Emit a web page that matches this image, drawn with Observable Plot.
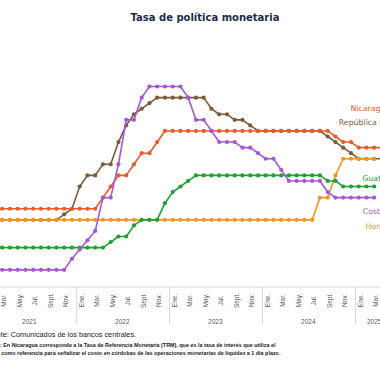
<!DOCTYPE html>
<html><head><meta charset="utf-8">
<script src="https://cdn.jsdelivr.net/npm/d3@7"></script>
<script src="https://cdn.jsdelivr.net/npm/@observablehq/plot@0.6"></script>
<style>
html,body{margin:0;padding:0;background:#fff;overflow:hidden;width:380px;height:380px;}
#wrap{position:relative;width:380px;height:380px;overflow:hidden;}
#title{position:absolute;left:0;top:12px;width:410px;text-align:center;font:bold 10px "DejaVu Sans";color:#1B2B4B;}
#chart{position:absolute;left:0;top:30px;width:380px;height:300px;}
.cap{position:absolute;white-space:nowrap;font-family:"Liberation Sans",Arial,sans-serif;color:#1a1a1a;line-height:1;}
</style></head><body>
<div id="wrap">
<div id="title">Tasa de política monetaria</div>
<div id="chart"></div>
<div class="cap" style="left:-16px;top:331px;font-size:7.3px">Fuente: Comunicados de los bancos centrales.</div>
<div class="cap" style="left:-12px;top:343px;font-size:5.4px;font-weight:bold">Nota: En Nicaragua corresponde a la Tasa de Referencia Monetaria (TRM), que es la tasa de interés que utiliza el</div>
<div class="cap" style="left:-12px;top:350.5px;font-size:5.4px;font-weight:bold">BCN como referencia para señalizar el costo en córdobas de las operaciones monetarias de liquidez a 1 día plazo.</div>
</div>
<script>
// Categories: months Jan 2021 .. May 2025 (axis extent)
const months = [
"2021-01","2021-02","2021-03","2021-04","2021-05","2021-06","2021-07","2021-08","2021-09","2021-10","2021-11","2021-12",
"2022-01","2022-02","2022-03","2022-04","2022-05","2022-06","2022-07","2022-08","2022-09","2022-10","2022-11","2022-12",
"2023-01","2023-02","2023-03","2023-04","2023-05","2023-06","2023-07","2023-08","2023-09","2023-10","2023-11","2023-12",
"2024-01","2024-02","2024-03","2024-04","2024-05","2024-06","2024-07","2024-08","2024-09","2024-10","2024-11","2024-12",
"2025-01","2025-02","2025-03","2025-04","2025-05"];
const monthAbbr = ["Ene.","Feb.","Mar.","Abr.","May.","Jun.","Jul.","Ago.","Sept.","Oct.","Nov.","Dic."];
const years = ["2021","2022","2023","2024","2025"];

// Series values (%), one per month
const nicaragua = [
3.5,3.5,3.5,3.5,3.5,3.5,3.5,3.5,3.5,3.5,3.5,3.5,
3.5,3.5,3.5,4.0,4.5,5.0,5.0,5.5,6.0,6.0,6.5,7.0,
7.0,7.0,7.0,7.0,7.0,7.0,7.0,7.0,7.0,7.0,7.0,7.0,
7.0,7.0,7.0,7.0,7.0,7.0,7.0,7.0,7.0,6.75,6.5,6.5,
6.25,6.25,6.25,6.25];
const repDominicana = [
3.0,3.0,3.0,3.0,3.0,3.0,3.0,3.0,3.0,3.0,3.25,3.5,
4.5,5.0,5.0,5.5,5.5,6.5,7.25,7.75,8.0,8.25,8.5,8.5,
8.5,8.5,8.5,8.5,8.5,8.0,7.75,7.75,7.5,7.5,7.25,7.0,
7.0,7.0,7.0,7.0,7.0,7.0,7.0,7.0,6.75,6.5,6.25,6.0,
5.75,5.75,5.75,5.75];
const guatemala = [
1.75,1.75,1.75,1.75,1.75,1.75,1.75,1.75,1.75,1.75,1.75,1.75,
1.75,1.75,1.75,1.75,2.0,2.25,2.25,2.75,3.0,3.0,3.0,3.75,
4.25,4.5,4.75,5.0,5.0,5.0,5.0,5.0,5.0,5.0,5.0,5.0,
5.0,5.0,5.0,5.0,5.0,5.0,5.0,5.0,4.75,4.75,4.5,4.5,
4.5,4.5,4.5];
const costaRica = [
0.75,0.75,0.75,0.75,0.75,0.75,0.75,0.75,0.75,0.75,0.75,1.25,
1.67,2.08,2.5,4.0,4.0,5.5,7.5,7.5,8.5,9.0,9.0,9.0,
9.0,9.0,8.5,7.5,7.5,7.0,6.5,6.5,6.5,6.25,6.25,6.0,
5.75,5.75,5.25,4.75,4.75,4.75,4.75,4.75,4.25,4.0,4.0,4.0,
4.0,4.0,4.0];
const honduras = [
3.0,3.0,3.0,3.0,3.0,3.0,3.0,3.0,3.0,3.0,3.0,3.0,
3.0,3.0,3.0,3.0,3.0,3.0,3.0,3.0,3.0,3.0,3.0,3.0,
3.0,3.0,3.0,3.0,3.0,3.0,3.0,3.0,3.0,3.0,3.0,3.0,
3.0,3.0,3.0,3.0,3.0,3.0,3.0,4.0,4.0,5.0,5.75,5.75,
5.75,5.75,5.75];

const seriesNames = ["República Dominicana","Honduras","Nicaragua","Guatemala","Costa Rica"];
const seriesValues = [repDominicana, honduras, nicaragua, guatemala, costaRica];
const seriesColors = ["#7B5B3A","#F7941D","#EA5A2B","#20A02E","#A558D6"];

const rows = seriesNames.map((name, k) =>
  seriesValues[k].map((v, i) => ({m: i, v, name})).filter(d => d.v != null));

const tickMonths = months.map((d, i) => i).filter(i => i % 2 === 0 && i <= 50);
const yearBounds = years.map(y => {
  const idx = months.map((d, i) => i).filter(i => months[i].startsWith(y));
  return {year: y, center: (idx[0] + idx[idx.length - 1]) / 2, start: idx[0]};
});
const separators = yearBounds.map(d => d.start - 0.4);

// label anchors in data space (month index, rate)
const labels = [
  {name: "Nicaragua", m: 46.94, v: 8.01, c: "#EA5A2B"},
  {name: "República Dominicana", m: 45.43, v: 7.38, c: "#7B5B3A"},
  {name: "Guatemala", m: 48.45, v: 4.85, c: "#20A02E"},
  {name: "Costa Rica", m: 48.53, v: 3.38, c: "#A558D6"},
  {name: "Honduras", m: 48.88, v: 2.72, c: "#F7941D"}
];

const marks = [
  Plot.ruleY([0], {stroke: "#d9d9d9", strokeWidth: 1, dy: 0.5}),
  Plot.ruleX(separators, {x: d => d, y1: 0, y2: -1.72, stroke: "#d9d9d9", strokeWidth: 1}),
  Plot.text(tickMonths, {x: d => d, y: 0, text: d => monthAbbr[d % 12], rotate: -90, textAnchor: "middle",
    dx: 1.8, dy: 14, fontSize: 6.5, fill: "#595959", fontFamily: "Liberation Sans"}),
  Plot.text(yearBounds, {x: "center", y: 0, text: "year", dy: 35, fontSize: 6.5, fill: "#595959", fontFamily: "Liberation Sans"})
];
rows.forEach((r, k) => {
  marks.push(Plot.line(r, {x: "m", y: "v", stroke: seriesColors[k], strokeWidth: 1.6}));
  marks.push(Plot.dot(r, {x: "m", y: "v", r: 2.1, fill: seriesColors[k], stroke: "none"}));
});
marks.push(Plot.text(labels, {x: "m", y: "v", text: "name", fill: "c", textAnchor: "start",
  fontSize: 7.8, fontFamily: "DejaVu Sans"}));

const chart = Plot.plot({
  width: 380, height: 300, margin: 0,
  x: {type: "linear", domain: [0, 51], range: [-13.8, -13.8 + 51 * 7.75], axis: null},
  y: {type: "linear", domain: [0, 10], range: [256, 256 - 222.2], axis: null},
  style: {background: "transparent", overflow: "visible"},
  marks
});
document.getElementById("chart").appendChild(chart);
</script>
</body></html>
